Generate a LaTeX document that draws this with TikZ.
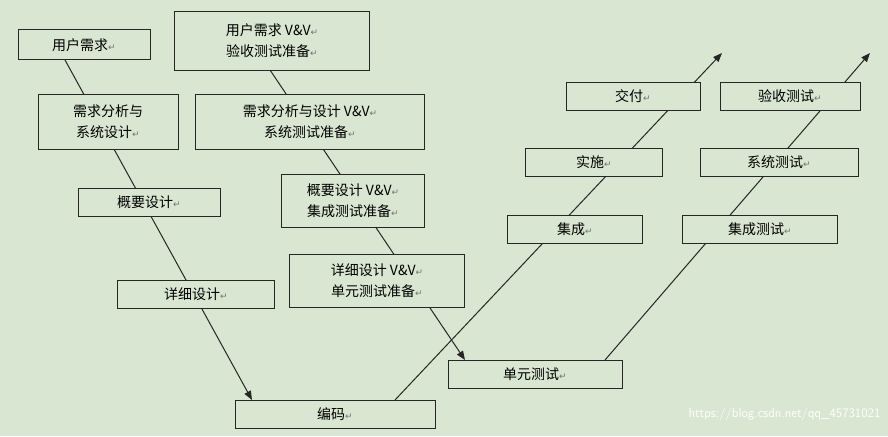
\documentclass[tikz,border=0pt]{standalone}
\usepackage{fontspec}
\newfontfamily\cjk{Noto Sans CJK SC}
\newfontfamily\dv{DejaVu Sans}
\usetikzlibrary{arrows.meta}
\definecolor{bg}{HTML}{D9E6D2}
\begin{document}
\begin{tikzpicture}[x=1pt,y=-1pt,
  box/.style={draw=black!85,fill=bg,line width=1pt,inner sep=0pt,font=\cjk\fontsize{14}{21}\selectfont,align=center},
  conn/.style={line width=1pt,draw=black!85},
  arr/.style={conn,-{Triangle[length=9pt,width=7pt]}}]
\newcommand\rt{{\dv\fontsize{9}{10}\selectfont\color{black!55}↵}}
\fill[bg] (0,0) rectangle (888,436);
\useasboundingbox (0,0) rectangle (888,436);
\coordinate (a1) at (65,60); \coordinate (a2) at (252,400);
\coordinate (b1) at (270,70); \coordinate (b2) at (465,360);
\coordinate (c1) at (395,400); \coordinate (c2) at (722,53);
\coordinate (d1) at (605,360); \coordinate (d2) at (870,53);
\draw[arr] (a1) -- (a2);
\draw[arr] (b1) -- (b2);
\draw[arr] (c1) -- (c2);
\draw[arr] (d1) -- (d2);
\node[box,minimum width=132,minimum height=30] (n1) at (84,45) {用户需求\rt};
\node[box,minimum width=195,minimum height=58] (n2) at (272,41) {用户需求 V\&V\rt\\验收测试准备\rt};
\node[box,minimum width=140,minimum height=55] (n3) at (108,122) {需求分析与\\系统设计\rt};
\node[box,minimum width=229,minimum height=55] (n4) at (310,122) {需求分析与设计 V\&V\rt\\系统测试准备\rt};
\node[box,minimum width=142,minimum height=28] (n5) at (149,202) {概要设计\rt};
\node[box,minimum width=143,minimum height=53] (n6) at (353,201) {概要设计 V\&V\rt\\集成测试准备\rt};
\node[box,minimum width=157,minimum height=28] (n7) at (196,294) {详细设计\rt};
\node[box,minimum width=175,minimum height=53] (n8) at (377,281) {详细设计 V\&V\rt\\单元测试准备\rt};
\node[box,minimum width=200,minimum height=28] (n9) at (335,414) {编码\rt};
\node[box,minimum width=174,minimum height=28] (n10) at (535,374) {单元测试\rt};
\node[box,minimum width=135,minimum height=28] (n11) at (575,229) {集成\rt};
\node[box,minimum width=137,minimum height=28] (n12) at (594,162) {实施\rt};
\node[box,minimum width=134,minimum height=28] (n13) at (633,96) {交付\rt};
\node[box,minimum width=155,minimum height=28] (n14) at (760,229) {集成测试\rt};
\node[box,minimum width=158,minimum height=28] (n15) at (779,162) {系统测试\rt};
\node[box,minimum width=140,minimum height=28] (n16) at (790,96) {验收测试\rt};
\node[font=\sffamily\fontsize{13}{14}\selectfont,text=white,anchor=east] (wm) at (884,414) {https://blog.csdn.net/qq\_45731021};
\end{tikzpicture}
\end{document}
